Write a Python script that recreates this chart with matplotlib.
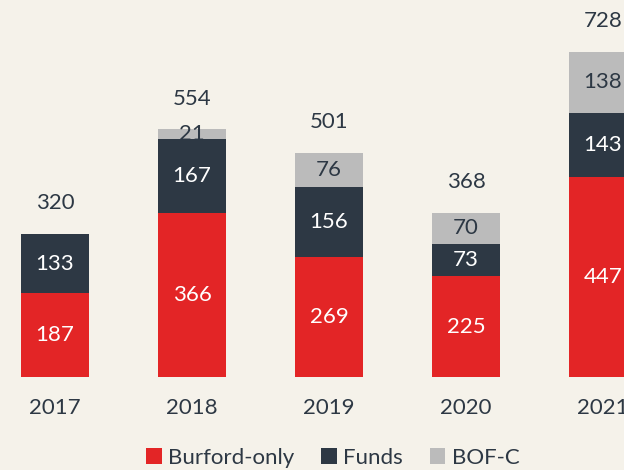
import matplotlib.pyplot as plt
import numpy as np

years = ['2017', '2018', '2019', '2020', '2021']
burford_only = [187, 366, 269, 225, 447]
funds = [133, 167, 156, 73, 143]
bofc = [0, 21, 76, 70, 138]
totals = [320, 554, 501, 368, 728]

bg = '#F5F2EA'
red = '#E32526'
dark = '#2D3844'
grey = '#BBBBBB'

plt.rcParams['font.family'] = ['Lato', 'DejaVu Sans']

fig = plt.figure(figsize=(6.24, 4.70), dpi=100, facecolor=bg)
ax = fig.add_axes([0, 93 / 470, 1, 377 / 470])
ax.set_facecolor(bg)

x = np.arange(len(years))
w = 0.496
b1 = np.array(burford_only)
b2 = np.array(funds)
b3 = np.array(bofc)

ax.bar(x, b1, w, color=red, label='Burford-only')
ax.bar(x, b2, w, bottom=b1, color=dark, label='Funds')
ax.bar(x, b3, w, bottom=b1 + b2, color=grey, label='BOF-C')

fs = 16
for i in range(len(years)):
    ax.text(x[i], b1[i] / 2, str(b1[i]), ha='center', va='center', color='white', fontsize=fs)
    ax.text(x[i], b1[i] + b2[i] / 2, str(b2[i]), ha='center', va='center', color='white', fontsize=fs)
    if b3[i] > 0:
        ax.text(x[i], b1[i] + b2[i] + b3[i] / 2, str(b3[i]), ha='center', va='center', color=dark, fontsize=fs)
    ax.text(x[i], totals[i] + 69, str(totals[i]), ha='center', va='center', color=dark, fontsize=fs)
    # the 2021 year label runs off the right edge, as in the source
    ax.text(x[i], -69, years[i], ha='center', va='center', color=dark, fontsize=fs)

ax.set_xlim(-55 / 137, (624 - 55) / 137)
ax.set_ylim(0, 377 / 0.447)
ax.axis('off')

leg = fig.legend(loc='center', bbox_to_anchor=(333 / 624, 1 - 458 / 470), ncol=3, frameon=False,
                 fontsize=16, handlelength=0.7, handleheight=0.7, handletextpad=0.3, columnspacing=1.2,
                 labelcolor=dark)

fig.savefig('out.png', dpi=100, facecolor=bg)
